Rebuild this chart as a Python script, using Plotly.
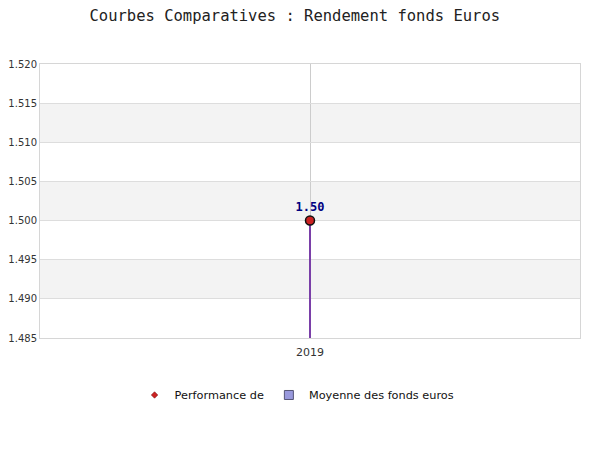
import plotly.graph_objects as go

categories = ["2019"]
performance = [1.50]
moyenne = [1.50]
y_ticks = [1.485, 1.490, 1.495, 1.500, 1.505, 1.510, 1.515, 1.520]
y_min, y_max = 1.485, 1.520

fig = go.Figure()

# Moyenne des fonds euros as thin bar
fig.add_trace(go.Bar(
    x=categories, y=[v - y_min for v in moyenne], base=y_min,
    name="Moyenne des fonds euros", width=0.0016,
    marker=dict(color="#7a3fa8", line=dict(width=0)),
    hoverinfo="skip", showlegend=False,
))

# Performance point
fig.add_trace(go.Scatter(
    x=categories, y=performance, mode="markers+text",
    marker=dict(symbol="circle", size=9, color="#cc2222", line=dict(color="#111111", width=1.5)),
    text=[f"{v:.2f}" for v in performance], textposition="top center",
    textfont=dict(family="DejaVu Sans Mono", size=12, color="#000080", weight="bold"),
    showlegend=False,
))
# legend entries
fig.add_trace(go.Scatter(
    x=categories, y=[None], mode="markers", name="Performance de",
    marker=dict(symbol="diamond", size=5, color="#cc2222", line=dict(color="#660000", width=0.5)),
))
fig.add_trace(go.Scatter(
    x=categories, y=[None], mode="markers", name="Moyenne des fonds euros",
    marker=dict(symbol="square", size=9, color="#9999dd", line=dict(color="#555577", width=1)),
))

# alternate bands
shapes = []
for i in range(len(y_ticks) - 1):
    if i % 2 == 1:
        shapes.append(dict(type="rect", xref="paper", yref="y", x0=0, x1=1,
                           y0=y_ticks[i], y1=y_ticks[i + 1],
                           fillcolor="#f3f3f3", line=dict(width=0), layer="below"))
fig.update_layout(shapes=shapes)

fig.update_layout(
    width=600, height=450,
    margin=dict(l=32, r=28, t=56, b=120),
    paper_bgcolor="white", plot_bgcolor="white",
    title=dict(text="Courbes Comparatives : Rendement fonds Euros", x=0.478, xanchor="center",
               y=0.984, yanchor="middle",
               font=dict(family="DejaVu Sans Mono", size=15.5, color="#222222")),
    font=dict(family="DejaVu Sans", size=11, color="#333333"),
    xaxis=dict(showgrid=True, gridcolor="#cccccc", gridwidth=1, showline=True,
               linecolor="#d6d6d6", mirror=True, ticks="", tickfont=dict(size=11),
               ticklabelstandoff=4, automargin=False),
    yaxis=dict(range=[y_min, y_max], tickvals=y_ticks,
               ticktext=[f"{t:.3f}" for t in y_ticks],
               showgrid=True, gridcolor="#dddddd", gridwidth=1, showline=True,
               linecolor="#d6d6d6", mirror=True, zeroline=False, ticks="",
               tickfont=dict(size=10), automargin=False),
    legend=dict(orientation="h", x=0.476, xanchor="center", y=-0.208, yanchor="middle",
                font=dict(family="DejaVu Sans", size=11.3, color="#111111")),
    bargap=0,
)

fig.write_html("out.html")
